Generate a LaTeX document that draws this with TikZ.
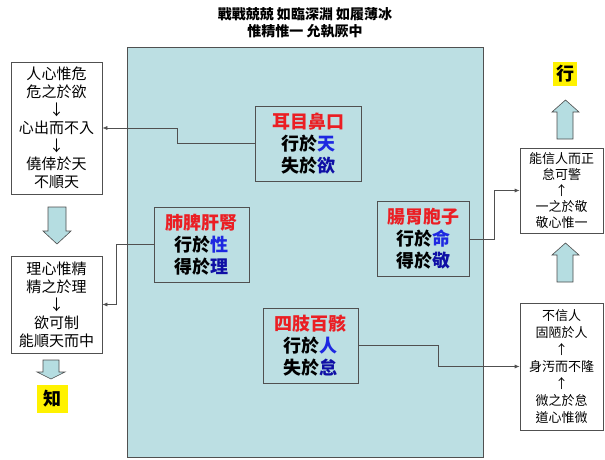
\documentclass[tikz,border=0pt]{standalone}
\usepackage{fontspec}
\setmainfont{Noto Sans CJK TC}
\usetikzlibrary{arrows.meta}
\definecolor{paleblue}{RGB}{188,223,227}
\definecolor{arrowblue}{RGB}{181,221,225}
\definecolor{linegray}{RGB}{80,80,80}
\definecolor{redtxt}{RGB}{235,30,35}
\definecolor{bluetxt}{RGB}{30,40,225}
\definecolor{darkblue}{RGB}{15,15,165}
\begin{document}
\begin{tikzpicture}[x=1pt,y=-1pt,
  organ/.style={draw=linegray,fill=paleblue,line width=0.8pt,align=center,inner sep=0pt,minimum width=#1,minimum height=75,font=\fontsize{18}{22}\selectfont\bfseries},
  organ/.default=95,
  note/.style={draw=linegray,fill=white,line width=0.7pt,align=center,inner sep=0pt,minimum width=#1},
  note/.default=91,
  link/.style={draw=linegray,line width=0.7pt,-{Latex[length=5pt,width=4pt]}},
  fat/.style={draw=gray!60!black,fill=arrowblue,line width=0.6pt},
  tag/.style={fill=yellow,inner sep=0pt,font=\fontsize{18}{18}\selectfont\bfseries}]

\useasboundingbox (0,0) rectangle (605,460);

% Title
\node [align=center,font=\fontsize{14}{17}\selectfont\bfseries] (title) at (305,23) {戰戰兢兢 如臨深淵 如履薄冰\\惟精惟一 允執厥中};

% Body
\draw [draw=linegray,fill=paleblue,line width=0.8pt] (127,47) rectangle (483,457);

\node [organ=106] (ear) at (308,143.5) {{\color{redtxt}耳目鼻口}\\行於{\color{bluetxt}天}\\失於{\color{darkblue}欲}};
\node [organ] (lung) at (201.5,244.5) {{\color{redtxt}肺脾肝腎}\\行於{\color{bluetxt}性}\\得於{\color{darkblue}理}};
\node [organ=92] (gut) at (423,239) {{\color{redtxt}腸胃胞子}\\行於{\color{bluetxt}命}\\得於{\color{darkblue}敬}};
\node [organ] (limb) at (310.5,345.5) {{\color{redtxt}四肢百骸}\\行於{\color{bluetxt}人}\\失於{\color{darkblue}怠}};

% Left
\node [note,minimum height=132,font=\fontsize{15}{18}\selectfont] (heart) at (56.5,128) {人心惟危\\危之於欲\\↓\\心出而不入\\↓\\僥倖於天\\不順天};
\node [note,minimum height=97,font=\fontsize{15}{18}\selectfont] (reason) at (56.5,304.5) {理心惟精\\精之於理\\↓\\欲可制\\能順天而中};
\draw [fat] (48,207) -- (66,207) -- (66,231) -- (71,231) -- (57,244) -- (43,231) -- (48,231) -- cycle;
\draw [fat] (43,360) -- (59,360) -- (59,372) -- (65,372) -- (51,379) -- (37,372) -- (43,372) -- cycle;
\node [tag,minimum width=31,minimum height=28] (know) at (52.5,399) {知};

% Right
\node [note=83,minimum height=85,font=\fontsize{13}{16}\selectfont] (faith) at (561.5,190.5) {能信人而正\\怠可警\\↑\\一之於敬\\敬心惟一};
\node [note=83,minimum height=127,font=\fontsize{13}{17}\selectfont] (stain) at (561.5,366.5) {不信人\\固陋於人\\↑\\身汚而不隆\\↑\\微之於怠\\道心惟微};
\draw [fat] (557,139) -- (573,139) -- (573,112) -- (579,112) -- (565.5,100) -- (552,112) -- (557,112) -- cycle;
\draw [fat] (557,282) -- (573,282) -- (573,255) -- (579,255) -- (565.5,243) -- (552,255) -- (557,255) -- cycle;
\node [tag,minimum width=24,minimum height=24] (act) at (565,74) {行};

% Links
\draw [link] (ear.west) -- ++(-77,0) |- (heart.east);
\draw [link] (lung.west) -- ++(-37,0) |- (reason.east);
\draw [link] (gut.east) -- ++(25,0) |- (faith.west);
\draw [link] (limb.east) -- ++(80,0) |- (stain.west);
\end{tikzpicture}
\end{document}
